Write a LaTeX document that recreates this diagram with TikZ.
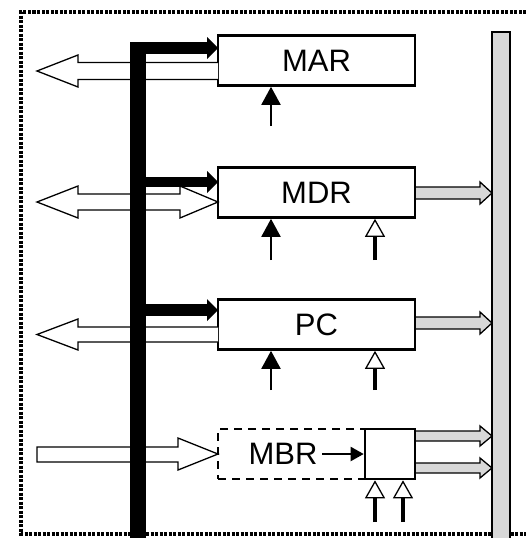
\documentclass[tikz,border=0pt]{standalone}
\usepackage{fontspec}
\setmainfont{Liberation Sans}
\usetikzlibrary{arrows.meta}
\definecolor{busgray}{HTML}{D8D8D8}
\tikzset{
  reg/.style={draw, line width=2.6pt, minimum width=197pt, minimum height=50pt, inner sep=0pt,
    font=\fontsize{31}{31}\selectfont},
  hollow/.style={draw, fill=white, line width=1.3pt, line join=miter},
  grayarr/.style={draw, fill=busgray, line width=1.3pt},
  ctlblack/.style={line width=2pt, -{Triangle[length=18pt,width=19pt]}},
  ctlopen/.style={line width=3.5pt, -{Triangle[open,line width=1.3pt,length=18pt,width=20pt]}},
  frame/.style={line width=3.2pt, dash pattern=on 3pt off 1.5pt}
}
\begin{document}
\begin{tikzpicture}[x=1pt,y=-1pt]
\useasboundingbox (0,0) rectangle (526,538);
% frame
\draw[frame] (526,12) -- (21,12) -- (21,534) -- (526,534);
% gray bus
\filldraw[fill=busgray, line width=1.5pt] (492,32) rectangle (510,540);
% boxes
\node[reg] (MAR) at (316.5,60.5) {MAR};
\node[reg] (MDR) at (316.5,192.5) {MDR};
\node[reg] (PC)  at (316.5,324.5) {PC};
\node[draw, line width=2.2pt, dash pattern=on 8pt off 6pt, minimum width=197pt, minimum height=50pt] (MBR) at (316.5,454) {};
\node[draw, line width=2.6pt, minimum width=50pt, minimum height=50pt, fill=white] (sel) at (390,454) {};
\node[font=\fontsize{31}{31}\selectfont, inner sep=0pt, outer sep=5pt] (MBRl) at (283,454) {MBR};
% hollow arrows (left side)
\draw[hollow] (218,62.5) -- (78,62.5) -- (78,55) -- (37,71) -- (78,87) -- (78,79.5) -- (218,79.5);
\draw[hollow] (180,194) -- (78,194) -- (78,186) -- (37,202) -- (78,218) -- (78,210) -- (180,210)
   -- (180,218) -- (218,202) -- (180,186) -- cycle;
\draw[hollow] (218,327) -- (78,327) -- (78,319) -- (37,334.5) -- (78,350) -- (78,342) -- (218,342);
\draw[hollow] (37,447) -- (178,447) -- (178,438) -- (218,454) -- (178,470) -- (178,462) -- (37,462) -- cycle;
% black bus with branches
\fill (130,42) rectangle (146,540);
\fill (146,42) rectangle (207,54);
\fill (207,37) -- (218,48) -- (207,59) -- cycle;
\fill (146,177) rectangle (207,187);
\fill (207,171) -- (218,182) -- (207,193) -- cycle;
\fill (146,304) rectangle (207,316);
\fill (207,299) -- (218,310) -- (207,321) -- cycle;
% gray arrows to right bus
\draw[grayarr] (416,187) -- (480,187) -- (480,182) -- (492,193) -- (480,204) -- (480,199) -- (416,199);
\draw[grayarr] (416,317) -- (480,317) -- (480,312) -- (492,323) -- (480,334) -- (480,329) -- (416,329);
\draw[grayarr] (416,431) -- (480,431) -- (480,426) -- (492,436) -- (480,446) -- (480,441) -- (416,441);
\draw[grayarr] (416,463) -- (480,463) -- (480,458) -- (492,468) -- (480,478) -- (480,473) -- (416,473);
% MBR to selector
\draw[line width=2pt, -{Triangle[length=13pt,width=14pt]}] (MBRl.east) -- (sel.west);
% control arrows
\coordinate (c1) at (271,126);
\coordinate (c2) at (271,260);
\coordinate (c3) at (375,260);
\coordinate (c4) at (271,390);
\coordinate (c5) at (375,390);
\coordinate (c6) at (375,522);
\coordinate (c7) at (403,522);
\draw[ctlblack] (c1) -- (c1 |- MAR.south);
\draw[ctlblack] (c2) -- (c2 |- MDR.south);
\draw[ctlopen] (c3) -- (c3 |- MDR.south);
\draw[ctlblack] (c4) -- (c4 |- PC.south);
\draw[ctlopen] (c5) -- (c5 |- PC.south);
\draw[ctlopen] (c6) -- (c6 |- sel.south);
\draw[ctlopen] (c7) -- (c7 |- sel.south);
\end{tikzpicture}
\end{document}
